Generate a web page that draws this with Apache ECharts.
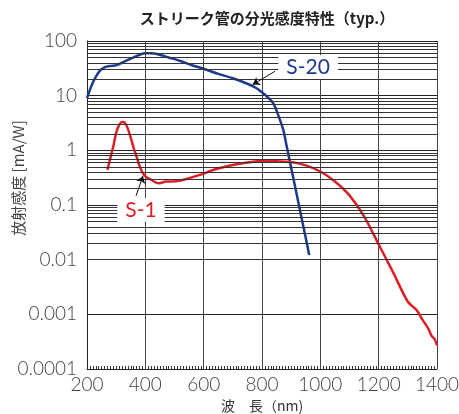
<!DOCTYPE html>
<html><head><meta charset="utf-8">
<script src="https://cdn.jsdelivr.net/npm/echarts@6/dist/echarts.min.js"></script>
<style>html,body{margin:0;padding:0;background:#fff}#c{width:459px;height:414px}</style>
</head><body><div id="c"></div>
<script>
// S-20 spectral response (wavelength nm, mA/W)
const wlS20 = [200, 215, 230, 245, 260, 280, 300, 320, 340, 360, 380, 400, 420, 440, 480, 520, 560, 600, 650, 700, 750, 780, 800, 820, 840, 855, 873, 885, 900, 920, 940, 962];
const valS20 = [9, 15, 22, 29, 33, 35, 36, 40, 45, 50, 56, 60, 60, 58, 50, 43, 36, 31, 25, 20.8, 16.5, 13.8, 11.5, 9.3, 7.0, 4.5, 2.36, 1.16, 0.48, 0.147, 0.045, 0.0122];
// S-1 spectral response
const wlS1 = [270, 280, 290, 300, 310, 320, 330, 340, 350, 360, 370, 380, 392, 405, 420, 435, 450, 460, 470, 490, 520, 550, 590, 640, 700, 750, 800, 850, 900, 950, 1000, 1050, 1100, 1150, 1200, 1250, 1300, 1330, 1350, 1370, 1382, 1392, 1400];
const valS1 = [0.44, 0.72, 1.17, 2.1, 2.9, 3.3, 3.2, 2.5, 1.7, 1.1, 0.77, 0.52, 0.38, 0.32, 0.29, 0.26, 0.25, 0.26, 0.27, 0.27, 0.28, 0.31, 0.36, 0.45, 0.54, 0.6, 0.64, 0.63, 0.61, 0.53, 0.41, 0.27, 0.15, 0.062, 0.019, 0.0058, 0.0017, 0.0012, 0.0008, 0.00055, 0.0004, 0.00035, 0.00027];
// tick labels
const xTicks = [200, 400, 600, 800, 1000, 1200, 1400];
const yTickLabels = ['0.0001', '0.001', '0.01', '0.1', '1', '10', '100'];

const minorY = [];
for (let k = -4; k <= 1; k++) for (let m = 2; m <= 9; m++) minorY.push({yAxis: m * Math.pow(10, k)});

const labelFont = 'Lato, "Noto Sans CJK JP", sans-serif';
const chart = echarts.init(document.getElementById('c'));
chart.setOption({
  animation: false,
  title: {
    text: 'ストリーク管の分光感度特性（typ.）',
    left: 262, top: 6, textAlign: 'center',
    textStyle: {fontFamily: '"Noto Sans CJK JP", sans-serif', fontSize: 15, fontWeight: 'bold', color: '#222'}
  },
  graphic: [{
    type: 'text', x: 18, y: 178, rotation: Math.PI / 2, silent: true,
    style: {text: '放射感度 [mA/W]', align: 'center', verticalAlign: 'middle',
      font: '15px "Noto Sans CJK JP", sans-serif', fill: '#444'}
  }],
  grid: {left: 87, right: 22, top: 41, bottom: 45, containLabel: false, outerBoundsMode: 'none'},
  xAxis: {
    type: 'value', min: 200, max: 1400, interval: 200,
    name: '波　長（nm)', nameLocation: 'middle', nameGap: 29,
    nameTextStyle: {fontFamily: '"Noto Sans CJK JP", sans-serif', fontSize: 14, color: '#333'},
    axisLine: {show: true, lineStyle: {color: '#222', width: 1}},
    axisTick: {show: true, inside: true, length: 0, lineStyle: {color: '#333'}},
    minorTick: {show: true, splitNumber: 20, length: 3, lineStyle: {color: '#333'}},
    axisLabel: {margin: 6, fontFamily: labelFont, fontWeight: 300, fontSize: 19, color: '#444',
      formatter: v => xTicks.includes(v) ? String(v) : ''},
    splitLine: {show: true, lineStyle: {color: '#444', width: 1}}
  },
  yAxis: {
    type: 'log', logBase: 10, min: 0.0001, max: 100,
    axisLine: {show: true, lineStyle: {color: '#222', width: 1}},
    axisTick: {show: false},
    axisLabel: {margin: 10, fontFamily: labelFont, fontWeight: 300, fontSize: 19, color: '#444',
      formatter: v => { const i = Math.round(Math.log10(v)) + 4; return yTickLabels[i] || ''; }},
    splitLine: {show: true, lineStyle: {color: '#222', width: 1}}
  },
  series: [
    {
      type: 'line', data: [], z: 1, silent: true,
      markLine: {silent: true, symbol: 'none', label: {show: false},
        lineStyle: {color: '#333', width: 1, type: 'solid'}, data: minorY}
    },
    {
      name: 'S-20', type: 'line', smooth: 0.3, showSymbol: false, z: 3,
      data: wlS20.map((w, i) => [w, valS20[i]]),
      lineStyle: {color: '#1d3b8e', width: 2.5},
      markLine: {silent: true, symbol: ['none', 'arrow'], symbolSize: 7, label: {show: false},
        lineStyle: {color: '#111', width: 1, type: 'solid'},
        data: [[{coord: [845, 28]}, {coord: [768, 16]}]]},
      markPoint: {symbol: 'rect', symbolSize: 0, silent: true,
        data: [{coord: [958, 33.5]}],
        label: {show: true, position: 'inside', formatter: 'S-20', fontFamily: labelFont, fontSize: 21,
          color: '#1d3b8e', backgroundColor: '#fff', padding: [2, 8, 1, 8]}}
    },
    {
      name: 'S-1', type: 'line', smooth: 0.3, showSymbol: false, z: 3,
      data: wlS1.map((w, i) => [w, valS1[i]]),
      lineStyle: {color: '#dc1f26', width: 2.5},
      markLine: {silent: true, symbol: ['none', 'arrow'], symbolSize: 7, label: {show: false},
        lineStyle: {color: '#111', width: 1, type: 'solid'},
        data: [[{coord: [368, 0.147]}, {coord: [392, 0.34]}]]},
      markPoint: {symbol: 'rect', symbolSize: 0, silent: true,
        data: [{coord: [385, 0.081]}],
        label: {show: true, position: 'inside', formatter: 'S-1', fontFamily: labelFont, fontSize: 21,
          color: '#dc1f26', backgroundColor: '#fff', padding: [2, 8, 1, 8]}}
    }
  ]
});
</script></body></html>
